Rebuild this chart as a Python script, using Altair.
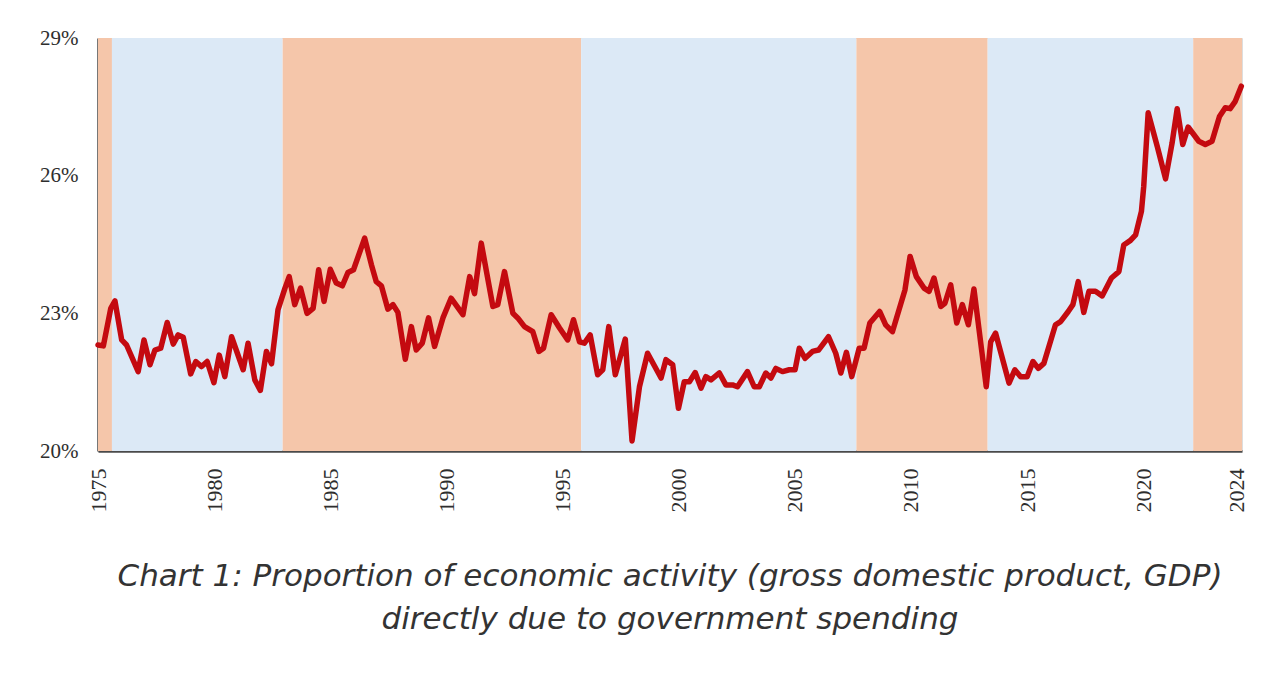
import altair as alt
import pandas as pd

# Government periods (shaded bands)
band_start = [1975.0, 1975.6, 1982.95, 1995.8, 2007.65, 2013.3, 2022.15]
band_end = [1975.6, 1982.95, 1995.8, 2007.65, 2013.3, 2022.15, 2024.25]
band_party = ["Labor", "Coalition", "Labor", "Coalition", "Labor", "Coalition", "Labor"]

# Government spending share of GDP (%)
years = [
    1975.0, 1975.23, 1975.55, 1975.73, 1976.02, 1976.23, 1976.73, 1976.98, 1977.24, 1977.45,
    1977.7, 1977.98, 1978.24, 1978.45, 1978.67, 1978.99, 1979.21, 1979.46, 1979.7, 1979.99,
    1980.22, 1980.46, 1980.75, 1981.25, 1981.46, 1981.75, 1981.99, 1982.25, 1982.47, 1982.75,
    1983.05, 1983.23, 1983.47, 1983.72, 1984.0, 1984.26, 1984.5, 1984.73, 1985.0, 1985.26,
    1985.52, 1985.76, 1986.0, 1986.48, 1986.77, 1986.98, 1987.2, 1987.48, 1987.7, 1987.91,
    1988.23, 1988.49, 1988.7, 1988.96, 1989.23, 1989.49, 1989.85, 1990.2, 1990.71, 1991.0,
    1991.21, 1991.5, 1992.0, 1992.21, 1992.5, 1992.86, 1993.07, 1993.36, 1993.72, 1993.98,
    1994.18, 1994.51, 1994.87, 1995.22, 1995.47, 1995.73, 1995.94, 1996.19, 1996.51, 1996.73,
    1996.99, 1997.27, 1997.7, 1997.99, 1998.31, 1998.66, 1999.24, 1999.45, 1999.74, 1999.99,
    2000.24, 2000.46, 2000.71, 2000.96, 2001.17, 2001.39, 2001.75, 2002.03, 2002.32, 2002.53,
    2002.96, 2003.25, 2003.47, 2003.75, 2003.97, 2004.18, 2004.47, 2004.76, 2005.01, 2005.19,
    2005.44, 2005.76, 2006.02, 2006.45, 2006.76, 2006.98, 2007.22, 2007.45, 2007.77, 2007.98,
    2008.23, 2008.65, 2008.91, 2009.2, 2009.74, 2009.96, 2010.23, 2010.56, 2010.78, 2010.99,
    2011.28, 2011.46, 2011.71, 2011.97, 2012.21, 2012.47, 2012.71, 2013.24, 2013.43, 2013.64,
    2014.22, 2014.47, 2014.72, 2015.0, 2015.25, 2015.48, 2015.72, 2016.22, 2016.44, 2016.77,
    2016.97, 2017.2, 2017.44, 2017.66, 2017.94, 2018.23, 2018.63, 2018.95, 2019.16, 2019.45,
    2019.67, 2019.92, 2020.02, 2020.21, 2020.6, 2020.96, 2021.24, 2021.46, 2021.7, 2021.93,
    2022.39, 2022.67, 2022.96, 2023.28, 2023.53, 2023.74, 2023.96, 2024.22,
]
share = [
    22.31, 22.29, 23.11, 23.27, 22.42, 22.31, 21.73, 22.42, 21.88, 22.20,
    22.24, 22.80, 22.33, 22.53, 22.48, 21.68, 21.95, 21.84, 21.95, 21.49,
    22.09, 21.62, 22.49, 21.77, 22.35, 21.55, 21.32, 22.17, 21.90, 23.08,
    23.55, 23.80, 23.19, 23.55, 23.00, 23.11, 23.95, 23.26, 23.96, 23.66,
    23.60, 23.89, 23.95, 24.64, 24.06, 23.69, 23.60, 23.09, 23.19, 23.02,
    22.00, 22.71, 22.20, 22.35, 22.90, 22.28, 22.90, 23.33, 22.97, 23.80,
    23.43, 24.53, 23.15, 23.19, 23.91, 23.00, 22.90, 22.71, 22.60, 22.17,
    22.24, 22.97, 22.68, 22.42, 22.86, 22.38, 22.35, 22.53, 21.66, 21.77,
    22.71, 21.66, 22.44, 20.22, 21.40, 22.13, 21.59, 21.99, 21.88, 20.93,
    21.51, 21.51, 21.71, 21.37, 21.62, 21.55, 21.70, 21.44, 21.44, 21.40,
    21.73, 21.40, 21.40, 21.70, 21.59, 21.80, 21.73, 21.77, 21.77, 22.24,
    22.02, 22.17, 22.20, 22.49, 22.13, 21.70, 22.15, 21.62, 22.24, 22.24,
    22.79, 23.04, 22.75, 22.60, 23.51, 24.24, 23.80, 23.55, 23.48, 23.77,
    23.15, 23.22, 23.62, 22.79, 23.19, 22.75, 23.53, 21.40, 22.38, 22.57,
    21.48, 21.77, 21.62, 21.62, 21.95, 21.80, 21.91, 22.75, 22.82, 23.04,
    23.19, 23.69, 23.02, 23.48, 23.48, 23.38, 23.77, 23.91, 24.49, 24.59,
    24.71, 25.22, 25.77, 27.37, 26.64, 25.93, 26.71, 27.46, 26.68, 27.06,
    26.75, 26.68, 26.75, 27.29, 27.48, 27.46, 27.62, 27.95,
]

x_ticks = [1975, 1980, 1985, 1990, 1995, 2000, 2005, 2010, 2015, 2020, 2024]
y_ticks = [20, 23, 26, 29]

bands = pd.DataFrame({"start": band_start, "end": band_end, "party": band_party})
series = pd.DataFrame({"year": years, "share": share})

x_scale = alt.Scale(domain=[1975, 2024.25], nice=False, zero=False)
y_scale = alt.Scale(domain=[20, 29], nice=False, zero=False)

serif = "Liberation Serif"

band_layer = alt.Chart(bands).mark_rect(opacity=1).encode(
    x=alt.X("start:Q", scale=x_scale,
            axis=alt.Axis(values=x_ticks, format="d", labelAngle=270, title=None,
                          labelFont=serif, labelFontSize=22, labelColor="#2e2e2e",
                          ticks=False, grid=False, domainColor="#4a4a4a", domainWidth=2.5,
                          labelPadding=17, labelFlush=False, labelOverlap=False)),
    x2="end:Q",
    y=alt.datum(29, scale=y_scale,
                axis=alt.Axis(values=y_ticks, labelExpr="datum.value + '%'", title=None,
                              labelFont=serif, labelFontSize=21, labelColor="#2e2e2e",
                              ticks=False, grid=False, domainColor="#4a4a4a", domainWidth=2.5,
                              labelPadding=20, labelFlush=False)),
    y2=alt.datum(20),
    color=alt.Color("party:N",
                    scale=alt.Scale(domain=["Labor", "Coalition"], range=["#f5c6aa", "#dce9f6"]),
                    legend=None),
)

line_layer = alt.Chart(series).mark_line(
    color="#c40a10", strokeWidth=5.5, strokeJoin="round", strokeCap="round"
).encode(
    x=alt.X("year:Q", scale=x_scale),
    y=alt.Y("share:Q", scale=y_scale),
)

chart = alt.layer(band_layer, line_layer).properties(
    width=1144,
    height=413,
    autosize=alt.AutoSizeParams(type="none"),
    padding={"left": 90, "top": 30, "right": 30, "bottom": 220},
    title=alt.TitleParams(
        text=["Chart 1: Proportion of economic activity (gross domestic product, GDP)",
              "directly due to government spending"],
        orient="bottom",
        anchor="middle",
        font="DejaVu Sans",
        fontSize=31,
        fontStyle="italic",
        fontWeight=300,
        color="#333333",
        lineHeight=43,
        baseline="top",
        offset=50,
    ),
).configure_view(stroke=None).configure(background="white")

chart.save("out.html", embed_options={"renderer": "svg", "actions": False})
